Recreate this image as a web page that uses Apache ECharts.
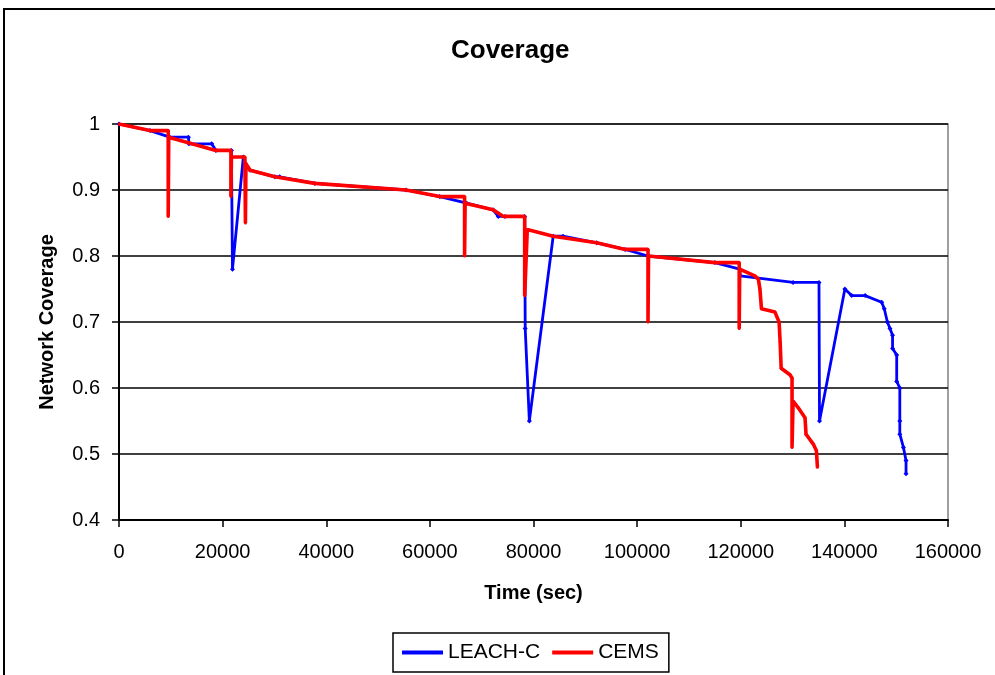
<!DOCTYPE html>
<html>
<head>
<meta charset="utf-8">
<script src="https://cdn.jsdelivr.net/npm/echarts@6/dist/echarts.min.js"></script>
<style>
  html, body { margin: 0; padding: 0; background: #fff; }
  #chart { width: 995px; height: 675px; }
</style>
</head>
<body>
<div id="chart"></div>
<script>
// Simulation time (sec) and network coverage for each protocol
var leachTime = [0, 5980, 9800, 13400, 13500, 17900, 18700, 21700, 21900, 24000, 24400, 25300,
  30100, 31000, 37800, 55400, 61900, 67100, 72200, 73200, 74500, 78300, 78400, 79200,
  83800, 85700, 92200, 97700, 102100, 115000, 119800, 119900, 130100, 135100, 135200,
  140100, 141400, 144000, 147200, 147700, 148300, 148800, 149300, 149300, 150100, 150100,
  150700, 150700, 150700, 151400, 151900, 151900];
var leachCoverage = [1, 0.99, 0.98, 0.98, 0.97, 0.97, 0.96, 0.96, 0.78, 0.95, 0.94, 0.93,
  0.92, 0.92, 0.91, 0.90, 0.89, 0.88, 0.87, 0.86, 0.86, 0.86, 0.69, 0.55,
  0.83, 0.83, 0.82, 0.81, 0.80, 0.79, 0.78, 0.77, 0.76, 0.76, 0.55,
  0.75, 0.74, 0.74, 0.73, 0.72, 0.70, 0.69, 0.68, 0.66, 0.65, 0.61,
  0.60, 0.55, 0.53, 0.51, 0.49, 0.47];

var cemsTime = [0, 5980, 9500, 9500, 9600, 18700, 21600, 21600, 21700, 24300, 24400, 24500,
  25300, 30100, 37800, 55400, 61900, 66700, 66700, 66800, 72200, 74200, 78300, 78300,
  78800, 83800, 92200, 97700, 102100, 102100, 102200, 115000, 119700, 119700, 119800,
  122700, 123400, 123700, 124000, 126600, 127400, 127600, 127800, 129500, 129900, 129900,
  130100, 131100, 132400, 132600, 134000, 134600, 134800];
var cemsCoverage = [1, 0.99, 0.99, 0.86, 0.98, 0.96, 0.96, 0.89, 0.95, 0.95, 0.85, 0.94,
  0.93, 0.92, 0.91, 0.90, 0.89, 0.89, 0.80, 0.88, 0.87, 0.86, 0.86, 0.74,
  0.84, 0.83, 0.82, 0.81, 0.81, 0.70, 0.80, 0.79, 0.79, 0.69, 0.78,
  0.77, 0.765, 0.75, 0.72, 0.715, 0.70, 0.67, 0.63, 0.62, 0.615, 0.51,
  0.58, 0.57, 0.555, 0.53, 0.515, 0.505, 0.48];

var seriesNames = ['LEACH-C', 'CEMS'];
var yTicks = { min: 0.4, max: 1, step: 0.1 };
var xTicks = { min: 0, max: 160000, step: 20000 };

function pairs(xs, ys) {
  return xs.map(function (x, i) { return [x, ys[i]]; });
}

var FONT = '"Liberation Sans", Arial, sans-serif';
var chart = echarts.init(document.getElementById('chart'), null, { renderer: 'canvas' });

chart.setOption({
  animation: false,
  backgroundColor: '#ffffff',
  graphic: [{
    type: 'rect',
    shape: { x: 4, y: 9, width: 1010, height: 700 },
    style: { fill: 'none', stroke: '#000', lineWidth: 2 },
    silent: true
  }],
  title: {
    text: 'Coverage',
    left: 446,
    top: 33,
    textStyle: { fontFamily: FONT, fontSize: 26, fontWeight: 'bold', color: '#000' }
  },
  legend: {
    data: [
      { name: seriesNames[0], icon: 'rect' },
      { name: seriesNames[1], icon: 'rect' }
    ],
    left: 393,
    top: 633,
    padding: [9, 10, 9, 9],
    itemGap: 12,
    itemWidth: 41,
    itemHeight: 4,
    borderColor: '#000',
    borderWidth: 1.5,
    textStyle: { fontFamily: FONT, fontSize: 21, color: '#000' }
  },
  grid: {
    left: 119,
    top: 124,
    right: 47,
    bottom: 155,
    show: true,
    borderColor: '#808080',
    borderWidth: 1.5,
    backgroundColor: '#fff'
  },
  xAxis: {
    type: 'value',
    min: xTicks.min,
    max: xTicks.max,
    interval: xTicks.step,
    name: 'Time (sec)',
    nameLocation: 'middle',
    nameGap: 63,
    nameTextStyle: { fontFamily: FONT, fontSize: 20, fontWeight: 'bold', color: '#000' },
    axisLine: { onZero: false, lineStyle: { color: '#000', width: 2 } },
    axisTick: { show: true, inside: false, length: 7, lineStyle: { color: '#000', width: 1.5 } },
    axisLabel: {
      fontFamily: FONT, fontSize: 20, color: '#000', margin: 22,
      formatter: function (v) { return String(v); }
    },
    splitLine: { show: false }
  },
  yAxis: {
    type: 'value',
    min: yTicks.min,
    max: yTicks.max,
    interval: yTicks.step,
    name: 'Network Coverage',
    nameLocation: 'middle',
    nameGap: 62,
    nameTextStyle: { fontFamily: FONT, fontSize: 20, fontWeight: 'bold', color: '#000' },
    axisLine: { lineStyle: { color: '#000', width: 2 } },
    axisTick: { show: true, inside: false, length: 7, lineStyle: { color: '#000', width: 1.5 } },
    axisLabel: {
      fontFamily: FONT, fontSize: 20, color: '#000', margin: 19,
      formatter: function (v) { return String(Math.round(v * 10) / 10); }
    },
    splitLine: { show: true, lineStyle: { color: '#000', width: 1.5 } }
  },
  series: [
    {
      name: seriesNames[0],
      type: 'line',
      data: pairs(leachTime, leachCoverage),
      color: '#0000ff',
      lineStyle: { color: '#0000ff', width: 2.8 },
      symbol: 'diamond',
      symbolSize: 5,
      itemStyle: { color: '#0000ff' },
      z: 2
    },
    {
      name: seriesNames[1],
      type: 'line',
      data: pairs(cemsTime, cemsCoverage),
      color: '#ff0000',
      lineStyle: { color: '#ff0000', width: 3.6 },
      symbol: 'circle',
      symbolSize: 3,
      itemStyle: { color: '#ff0000' },
      z: 3
    }
  ]
});
</script>
</body>
</html>
